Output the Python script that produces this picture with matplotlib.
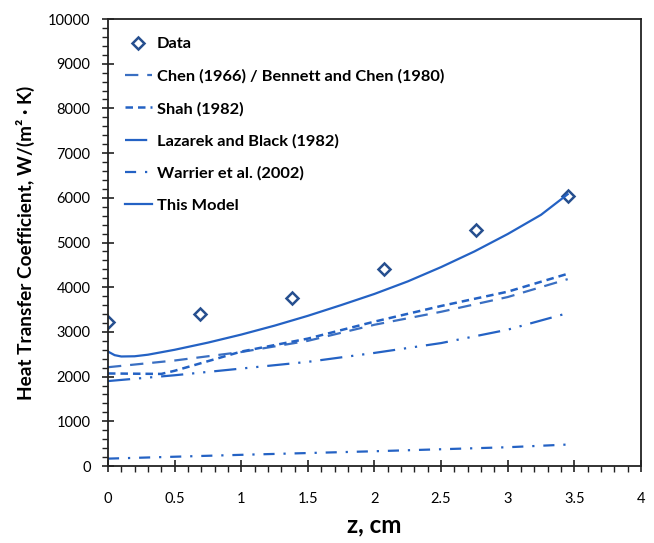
import matplotlib
matplotlib.use("Agg")
import matplotlib.pyplot as plt
from matplotlib.ticker import MultipleLocator

plt.rcParams['font.family'] = ['Lato', 'DejaVu Sans']

# measured data
z_data = [0.0, 0.69, 1.38, 2.07, 2.76, 3.45]
h_data = [3230, 3405, 3765, 4410, 5270, 6040]

# correlations
z_chen = [0.0, 0.5, 1.0, 1.5, 2.0, 2.5, 3.0, 3.45]
h_chen = [2210, 2360, 2550, 2800, 3160, 3450, 3780, 4180]

z_shah = [0.0, 0.4, 0.5, 1.0, 1.5, 2.0, 2.5, 3.0, 3.45]
h_shah = [2070, 2060, 2130, 2560, 2850, 3230, 3580, 3900, 4300]

z_lazarek = [0.0, 0.5, 1.0, 1.5, 2.0, 2.5, 3.0, 3.45]
h_lazarek = [1900, 2030, 2180, 2330, 2530, 2750, 3050, 3420]

z_warrier = [0.0, 1.0, 2.0, 3.0, 3.45]
h_warrier = [165, 250, 330, 420, 480]

z_model = [0.0, 0.05, 0.1, 0.2, 0.3, 0.5, 0.75, 1.0, 1.25, 1.5, 1.75,
           2.0, 2.25, 2.5, 2.75, 3.0, 3.25, 3.45]
h_model = [2560, 2480, 2450, 2455, 2490, 2600, 2760, 2940, 3140, 3360, 3600,
           3850, 4130, 4450, 4800, 5190, 5620, 6080]

blue = '#2462c4'

fig = plt.figure(figsize=(6.54, 5.43), dpi=100)
ax = fig.add_axes([0.1651, 0.1418, 0.815, 0.8232])

ax.plot(z_data, h_data, linestyle='none', marker='D', markersize=6.5,
        markerfacecolor='white', markeredgecolor='#264f8f', markeredgewidth=1.8,
        label='Data')
ax.plot(z_chen, h_chen, color='#3a6fc2', lw=1.6, dashes=(6, 4),
        label='Chen (1966) / Bennett and Chen (1980)')
ax.plot(z_shah, h_shah, color=blue, lw=1.8, dashes=(3, 2),
        label='Shah (1982)')
ax.plot(z_lazarek, h_lazarek, color=blue, lw=1.6, dashes=(10, 4, 1, 4, 1, 4),
        label='Lazarek and Black (1982)')
ax.plot(z_warrier, h_warrier, color=blue, lw=1.6, dashes=(5, 4, 1, 4),
        label='Warrier et al. (2002)')
ax.plot(z_model, h_model, color=blue, lw=1.6, label='This Model')

ax.set_xlim(0, 4)
ax.set_ylim(0, 10000)
ax.xaxis.set_major_locator(MultipleLocator(0.5))
ax.xaxis.set_minor_locator(MultipleLocator(0.1))
ax.yaxis.set_major_locator(MultipleLocator(1000))
ax.yaxis.set_minor_locator(MultipleLocator(200))
ax.xaxis.set_major_formatter(plt.FuncFormatter(lambda v, p: f'{v:g}'))

ax.tick_params(which='major', direction='inout', length=9, width=1.2, labelsize=10.5,
               color='#222222')
ax.tick_params(which='minor', direction='out', length=4, width=1, color='#222222')
ax.tick_params(axis='x', which='major', pad=14)
ax.tick_params(axis='y', which='major', pad=8)
for s in ax.spines.values():
    s.set_linewidth(1.3)
    s.set_color('#222222')

ax.set_xlabel('z, cm', fontsize=17.5, fontweight='bold')
ax.xaxis.set_label_coords(0.5, -0.107)
ax.set_ylabel('Heat Transfer Coefficient, W/(m² · K)', fontsize=13.7,
              fontweight='bold')
ax.yaxis.set_label_coords(-0.136, 0.5)

leg = ax.legend(loc='upper left', bbox_to_anchor=(0.191, 0.932),
                bbox_transform=fig.transFigure, frameon=False,
                prop={'weight': 'bold', 'size': 11.8}, handlelength=1.65,
                labelspacing=1.09, handletextpad=0.3, borderpad=0,
                borderaxespad=0)

fig.savefig('out.png', dpi=100)
